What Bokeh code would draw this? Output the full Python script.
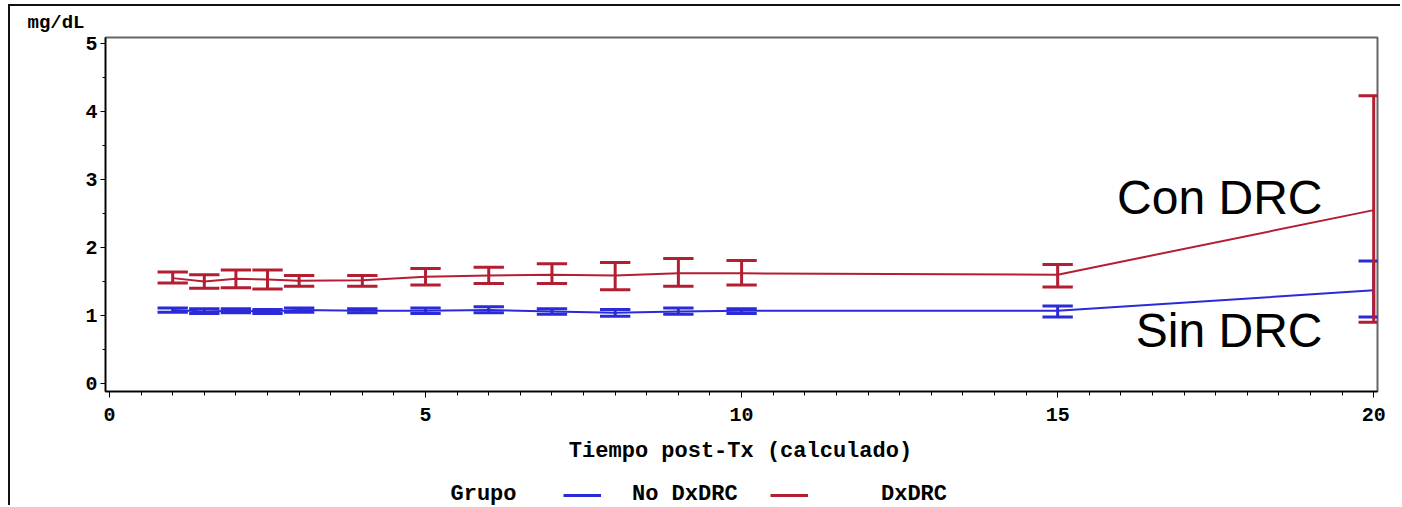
from bokeh.plotting import figure
from bokeh.models import (Label, Legend, LegendItem, SingleIntervalTicker, Range1d,
                          ColumnDataSource, Title)
from bokeh.layouts import column
from bokeh.embed import file_html
from bokeh.resources import INLINE

# ---- data ----
x_time = [1, 1.5, 2, 2.5, 3, 4, 5, 6, 7, 8, 9, 10, 15, 20]

red_mean = [1.55, 1.50, 1.54, 1.53, 1.51, 1.52, 1.57, 1.59, 1.60, 1.59, 1.62, 1.62, 1.60, 2.55]
red_low = [1.48, 1.40, 1.41, 1.39, 1.43, 1.43, 1.45, 1.47, 1.47, 1.38, 1.43, 1.45, 1.42, 0.90]
red_high = [1.64, 1.60, 1.67, 1.67, 1.59, 1.59, 1.69, 1.71, 1.76, 1.78, 1.84, 1.81, 1.75, 4.23]

blue_mean = [1.08, 1.06, 1.07, 1.06, 1.08, 1.07, 1.07, 1.08, 1.06, 1.04, 1.06, 1.07, 1.07, 1.37]
blue_low = [1.05, 1.03, 1.04, 1.03, 1.05, 1.04, 1.03, 1.04, 1.02, 0.99, 1.02, 1.03, 0.98, 0.98]
blue_high = [1.11, 1.10, 1.10, 1.09, 1.11, 1.10, 1.11, 1.13, 1.10, 1.09, 1.11, 1.10, 1.14, 1.80]

series_names = ["No DxDRC", "DxDRC"]
legend_title = "Grupo"
x_label = "Tiempo post-Tx (calculado)"
y_label = "mg/dL"

BLUE = "#2A2AD8"
RED = "#B41E32"
MONO = "Liberation Mono"
CAP_HALF = 0.24

W = 1392
H_MAIN = 428
H_LEG = 73

p = figure(width=W, height=H_MAIN, output_backend="svg", toolbar_location=None,
           x_range=Range1d(-0.063, 20.06), y_range=Range1d(-0.117, 5.088),
           min_border_left=95, min_border_right=25, min_border_top=29, min_border_bottom=43)
p.background_fill_color = "white"
p.border_fill_color = "white"
p.outline_line_color = "#666666"
p.outline_line_width = 2
p.xgrid.visible = False
p.ygrid.visible = False


def draw(xs, mean, low, high, color):
    src = ColumnDataSource(dict(
        x=xs, mean=mean, low=low, high=high,
        xl=[v - CAP_HALF for v in xs], xr=[v + CAP_HALF for v in xs]))
    ln = p.line("x", "mean", source=src, line_color=color, line_width=2)
    p.segment("x", "low", "x", "high", source=src, line_color=color, line_width=3)
    p.segment("xl", "low", "xr", "low", source=src, line_color=color, line_width=3)
    p.segment("xl", "high", "xr", "high", source=src, line_color=color, line_width=3)
    return ln


draw(x_time, blue_mean, blue_low, blue_high, BLUE)
draw(x_time, red_mean, red_low, red_high, RED)

# axes
for ax in (p.xaxis[0], p.yaxis[0]):
    ax.major_label_text_font = MONO
    ax.major_label_text_font_style = "bold"
    ax.major_label_text_font_size = "20px"
    ax.major_label_text_color = "black"
    ax.axis_line_color = "black"
    ax.axis_line_width = 1.5
    ax.major_tick_line_color = "black"
    ax.minor_tick_line_color = "black"
    ax.major_tick_in = 0
    ax.minor_tick_in = 0

p.xaxis[0].ticker = SingleIntervalTicker(interval=5, num_minor_ticks=10)
p.yaxis[0].ticker = SingleIntervalTicker(interval=1, num_minor_ticks=2)
p.xaxis[0].major_tick_out = 6
p.xaxis[0].minor_tick_out = 4
p.xaxis[0].major_label_standoff = 10
p.yaxis[0].major_tick_out = 5
p.yaxis[0].minor_tick_out = 3
p.yaxis[0].major_label_standoff = 3

# y-axis unit label at the top left
p.add_layout(Title(text=y_label, align="left", offset=-78, text_font=MONO,
                   text_font_style="bold", text_font_size="19px", standoff=7,
                   text_color="black"), "above")

# series annotations
p.add_layout(Label(x=1217, y=194, x_units="screen", y_units="screen", text="Con DRC",
                   text_align="right", text_font="Liberation Sans", text_font_size="48px",
                   text_baseline="alphabetic", text_color="black"))
p.add_layout(Label(x=1217, y=61, x_units="screen", y_units="screen", text="Sin DRC",
                   text_align="right", text_font="Liberation Sans", text_font_size="48px",
                   text_baseline="alphabetic", text_color="black"))

# ---- lower strip: x-axis label and legend (frame aligned with the plot above) ----
q = figure(width=W, height=H_LEG, output_backend="svg", toolbar_location=None,
           x_range=Range1d(100, 101), y_range=Range1d(100, 101),
           min_border=0, min_border_left=0, min_border_right=0,
           min_border_top=0, min_border_bottom=0)
q.axis.visible = False
q.grid.visible = False
q.outline_line_color = None
q.background_fill_color = "white"
q.border_fill_color = "white"

q.add_layout(Label(x=635, y=56, x_units="screen", y_units="screen", text=x_label,
                   text_align="center", text_font=MONO, text_font_style="bold",
                   text_font_size="22px", text_baseline="alphabetic", text_color="black"))
q.add_layout(Label(x=345, y=13, x_units="screen", y_units="screen", text=legend_title,
                   text_font=MONO, text_font_style="bold", text_font_size="22px",
                   text_baseline="alphabetic", text_color="black"))

# legend proxies: same data, drawn outside this strip's visible range
leg_blue = q.line(x=x_time, y=blue_mean, line_color=BLUE, line_width=3)
leg_red = q.line(x=x_time, y=red_mean, line_color=RED, line_width=3)
for name, rend, loc, standoff in [(series_names[0], leg_blue, (458, 0), 31),
                                  (series_names[1], leg_red, (665, 0), 73)]:
    lg = Legend(items=[LegendItem(label=name, renderers=[rend])], location=loc,
                orientation="horizontal", glyph_width=38, glyph_height=20,
                label_standoff=standoff, padding=0, margin=0, border_line_color=None,
                background_fill_alpha=0, label_text_font=MONO, label_text_color="black",
                label_text_font_style="bold", label_text_font_size="22px")
    q.add_layout(lg, "center")

layout = column(p, q, spacing=0)
layout.styles = {"margin-left": "10px", "margin-top": "6px",
                 "box-shadow": "-2px -2px 0 0 #111111"}

open("out.html", "w").write(file_html(layout, INLINE))
